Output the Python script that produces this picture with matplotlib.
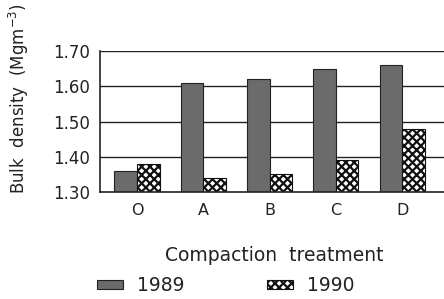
import matplotlib
matplotlib.use("Agg")
import matplotlib.pyplot as plt
import numpy as np

plt.rcParams['font.family'] = ['DejaVu Sans']
plt.rcParams['hatch.linewidth'] = 1.6

categories = ['O', 'A', 'B', 'C', 'D']
y1989 = [1.36, 1.61, 1.62, 1.65, 1.66]
y1990 = [1.38, 1.34, 1.35, 1.39, 1.48]
yticks = [1.30, 1.40, 1.50, 1.60, 1.70]
ytick_labels = ['1.30', '1.40', '1.50', '1.60', '1.70']

fig = plt.figure(figsize=(4.44, 2.99), dpi=100)
ax = fig.add_axes([0.225, 0.358, 0.775, 0.471])

x = np.arange(len(categories))
w = 0.34
b1 = ax.bar(x - w/2, [v - 1.30 for v in y1989], w, bottom=1.30,
            color='#6b6b6b', edgecolor='#222222', linewidth=0.8, label='1989')
b2 = ax.bar(x + w/2, [v - 1.30 for v in y1990], w, bottom=1.30,
            color='white', edgecolor='#111111', hatch='xxxx', linewidth=0.8, label='1990')

ax.set_ylim(1.30, 1.70)
ax.set_xlim(-0.56, 4.63)
ax.set_yticks(yticks)
ax.set_yticklabels(ytick_labels, fontsize=12, color='#222222')
ax.set_xticks(x)
ax.set_xticklabels(categories, fontsize=11.5, color='#222222')
ax.tick_params(axis='both', length=0, pad=8)
ax.tick_params(axis='y', pad=7)
for yv in yticks[1:]:
    ax.axhline(yv, color='#222222', linewidth=1.0, zorder=0)
ax.spines['right'].set_visible(False)
ax.spines['top'].set_visible(False)
for s in ['left', 'bottom']:
    ax.spines[s].set_linewidth(1.2)
    ax.spines[s].set_color('#222222')

ax.set_ylabel('Bulk  density  (Mgm$^{-3}$)', fontsize=12, color='#222222')
ax.yaxis.set_label_coords(-0.2, 0.66)

fig.text(0.617, 0.147, 'Compaction  treatment', fontsize=13.5, ha='center', va='center', color='#222222')

leg = fig.legend(handles=[b1, b2], labels=['1989', '1990'], ncol=2, frameon=False,
                 loc='center left', bbox_to_anchor=(0.18, 0.045), fontsize=13.5,
                 handlelength=1.4, handleheight=0.35, handletextpad=0.75, columnspacing=4.4)
for t in leg.get_texts():
    t.set_color('#222222')

fig.savefig('out.png', dpi=100)
